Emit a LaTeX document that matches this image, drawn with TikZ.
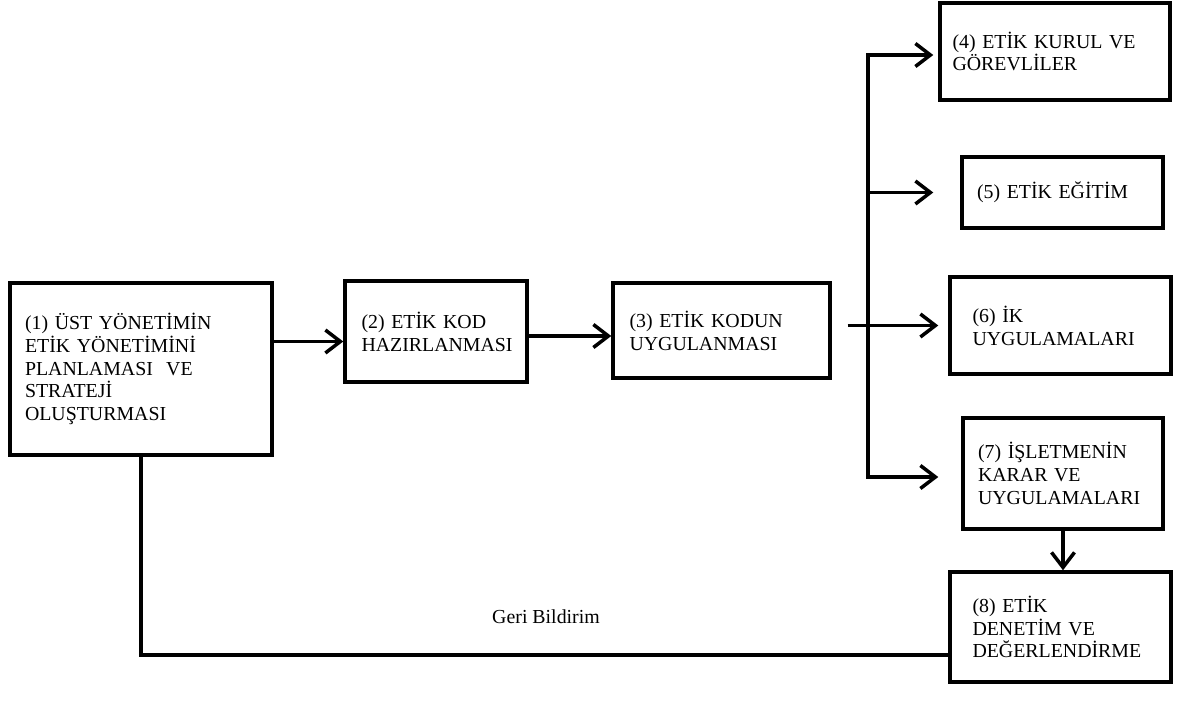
\documentclass[tikz,border=0pt]{standalone}
\usepackage{fontspec}
\setmainfont{Liberation Serif}
\usetikzlibrary{arrows.meta}

\tikzset{barb/.tip={Straight Barb[length=0.3cm, width=0.46cm, line width=2pt]}}

\begin{document}
\begin{tikzpicture}[x=0.02cm, y=-0.02cm,
    every node/.style={font=\fontsize{11.3}{13}\selectfont},
    box/.style={draw, line width=2pt, align=left, inner xsep=0.3cm, inner ysep=0pt},
    arr/.style={-barb, line width=2pt}]
      \useasboundingbox (0,0) rectangle (1189,703);
      % left chain of boxes
      \node[box, text width=4.64cm, minimum height=3.44cm] (b1) at (141,369)
        {(1) ÜST YÖNETİMİN\\ETİK YÖNETİMİNİ\\PLANLAMASI\ \ VE\\STRATEJİ\\OLUŞTURMASI};
      \node[box, text width=2.98cm, minimum height=2.02cm, inner xsep=0.33cm] (b2) at (436,331.5)
        {(2) ETİK KOD\\HAZIRLANMASI};
      \node[box, text width=3.68cm, minimum height=1.9cm, inner xsep=0.33cm] (b3) at (721.5,330.5)
        {(3) ETİK KODUN\\UYGULANMASI};
      % right column of boxes
      \node[box, text width=4.1cm, minimum height=1.94cm, inner xsep=0.25cm] (b4) at (1055,51.5)
        {(4) ETİK KURUL VE\\GÖREVLİLER};
      \node[box, text width=3.42cm, minimum height=1.42cm] (b5) at (1062.5,192.5)
        {(5) ETİK EĞİTİM};
      \node[box, text width=3.52cm, minimum height=1.94cm, inner xsep=0.45cm] (b6) at (1060.5,325.5)
        {(6) İK\\UYGULAMALARI};
      \node[box, text width=3.4cm, minimum height=2.22cm] (b7) at (1063,473.5)
        {(7) İŞLETMENİN\\KARAR VE\\UYGULAMALARI};
      \node[box, text width=3.52cm, minimum height=2.2cm, inner xsep=0.45cm] (b8) at (1060.5,627)
        {(8) ETİK\\DENETİM VE\\DEĞERLENDİRME};
      % trunk of the branches
      \coordinate (tr) at (868,0);
      % arrows
      \draw[arr] ([yshift=-0.2cm]b1.east |- b2.west) -- ([yshift=-0.2cm]b2.west);
      \draw[arr] ([yshift=-0.09cm]b2.east) -- ([yshift=-0.09cm]b2.east -| b3.west);
      \draw[arr, shorten >=0.2cm] ([xshift=0.32cm]b3.east |- b6.west) -- (b6.west);
      \draw[barb-barb, line width=2pt, shorten <=0.1cm, shorten >=0.46cm]
        ([yshift=-0.07cm]b4.west) -- ([yshift=-0.07cm]b4.west -| tr)
        -- ([yshift=-0.07cm]b7.west -| tr) -- ([yshift=-0.07cm]b7.west);
      \draw[arr, shorten >=0.54cm] (b5.west -| tr) -- (b5.west);
      \draw[arr] (b7.south) -- (b8.north -| b7.south);
      % feedback line
      \draw[line width=2pt] (b1.south) |- ([yshift=-0.56cm]b8.west);
      \node (fb) at (546,617) {Geri Bildirim};
    \end{tikzpicture}
\end{document}
